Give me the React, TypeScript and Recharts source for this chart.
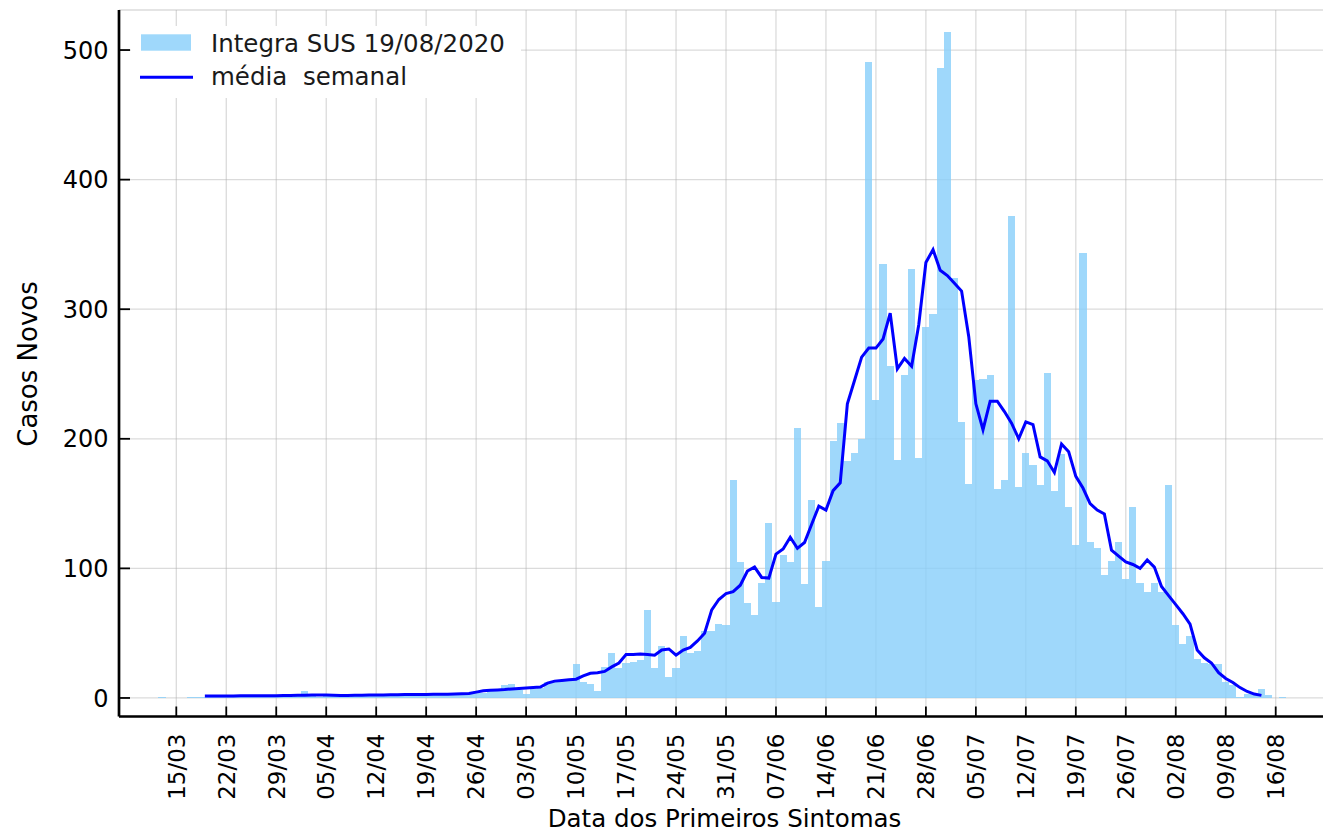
import React from 'react';
import { ComposedChart, Bar, Line, XAxis, YAxis, CartesianGrid, Legend } from 'recharts';

// ---- data ----
// daily new cases, starting 13/03/2020
const casesStart = [2020, 2, 13];
const newCases = [
  1, 0, 0, 0, 1, 1,
  1, 2, 1, 2, 1, 2, 2, 1, 2, 2, 1, 2, 1, 2,
  5,
  2, 1, 2, 3, 2, 1, 2, 2, 3, 2, 2, 3, 2, 2, 3, 4, 3, 2, 3, 2, 3, 3, 3,
  5, 4, 5, 6, 10, 11, 6, 3, 7, 8, 12, 12, 13, 14, 26, 12, 11, 5, 24, 35,
  23, 27, 28, 29, 68, 23, 40, 16, 23, 48, 35, 36, 52, 52, 57, 56,
  168, 105, 73, 64, 89, 135, 74, 110, 105, 208, 88, 153, 70, 106, 198, 212,
  183, 189, 200, 491, 230, 335, 256, 184, 249, 331, 185, 286, 296, 486, 514, 324,
  213, 165, 245, 246, 249, 161, 168, 372, 163, 189, 180, 164, 251, 160, 188, 147,
  118, 343, 120, 116, 95, 106, 120, 92, 147, 89, 82, 89, 82, 164, 56, 42,
  48, 30, 27, 26, 26, 12, 10, 1, 3, 3, 7, 2, 0, 1,
];

// weekly (7-day) mean, starting 19/03/2020
const avgStart = [2020, 2, 19];
const weeklyMean = [
  1.5, 1.5, 1.5, 1.6, 1.6, 1.7, 1.7, 1.7, 1.8, 1.8, 1.8, 1.9,
  2.0, 2.1, 2.1, 2.2, 2.2, 2.2, 2.1, 2.0, 2.0, 2.1, 2.1, 2.2, 2.3, 2.3, 2.4,
  2.5, 2.6, 2.6, 2.7, 2.7, 2.8, 2.8, 2.9, 3.0, 3.2,
  3.5, 4.5, 5.5, 6.0, 6.2, 6.5, 7.0, 7.3, 7.6, 8.0,
  8.5, 11.5, 13, 13.5, 14, 14.5, 17, 19, 19.5, 20.5,
  24, 27, 33.5, 33.5, 34, 33.5, 33, 37, 37.8, 33,
  37, 39, 44, 50, 68, 76, 80.5, 82, 87, 98,
  101, 93, 92.5, 111, 115, 124, 115.5, 120, 134, 148,
  145, 160, 166, 227, 245, 263, 270, 270, 277, 297,
  254, 262, 256, 288, 336, 346, 330, 326, 320, 314,
  279, 227, 207, 229, 229, 221, 212, 200, 213, 211,
  186, 183, 174, 196, 190, 171, 162, 150, 145, 142,
  114, 109.5, 105, 103, 100, 106.5, 101, 86, 79, 72,
  65, 57, 37, 31, 27, 19.5, 15, 12, 8, 5,
  3, 2,
];

const xTickLabels = [
  '15/03', '22/03', '29/03', '05/04', '12/04', '19/04', '26/04', '03/05', '10/05',
  '17/05', '24/05', '31/05', '07/06', '14/06', '21/06', '28/06', '05/07', '12/07',
  '19/07', '26/07', '02/08', '09/08', '16/08',
];
const yTickValues = [0, 100, 200, 300, 400, 500];

// axis category range: 08/03 .. 23/08
const axisStart = [2020, 2, 8];
const axisDayCount = 169;

const seriesName = 'Integra SUS 19/08/2020';
const lineName = 'média  semanal';

// ---- table ----
const DAY = 86400000;
const utc = (a: number[]) => Date.UTC(a[0], a[1], a[2]);
const fmt = (t: number) => {
  const d = new Date(t);
  const dd = String(d.getUTCDate()).padStart(2, '0');
  const mm = String(d.getUTCMonth() + 1).padStart(2, '0');
  return `${dd}/${mm}`;
};
const tableData = Array.from({ length: axisDayCount }, (_, i) => {
  const t = utc(axisStart) + i * DAY;
  const bi = Math.round((t - utc(casesStart)) / DAY);
  const ai = Math.round((t - utc(avgStart)) / DAY);
  return {
    date: fmt(t),
    cases: bi >= 0 && bi < newCases.length ? newCases[bi] : null,
    mean: ai >= 0 && ai < weeklyMean.length ? weeklyMean[ai] : null,
  };
});

// ---- layout ----
const W = 1335;
const H = 833;
const PLOT_LEFT = 119;
const PLOT_TOP = 10;
const X_AXIS_H = 116.5;
const PAD_L = 3.76;
const PAD_R = 5.75;
const BAND = (W - PLOT_LEFT - PAD_L - PAD_R) / axisDayCount;
const FONT = 'DejaVu Sans';
const BAR_FILL = '#87CEFA';

const BarShape = (p: any) => {
  if (!p.height || p.height <= 0) return null;
  return (
    <rect
      x={p.x}
      y={p.y}
      width={p.width}
      height={p.height}
      fill={BAR_FILL}
      fillOpacity={0.8}
      shapeRendering="crispEdges"
    />
  );
};

const XTick = (p: any) => {
  const x = p.x;
  const y0 = H - X_AXIS_H + 17;
  return (
    <text
      x={x}
      y={y0}
      transform={`rotate(-90 ${x} ${y0})`}
      textAnchor="end"
      dy="0.36em"
      fontFamily={FONT}
      fontSize={23}
      fill="#000"
    >
      {p.payload.value}
    </text>
  );
};

const YTick = (p: any) => (
  <text
    x={108.5}
    y={p.y}
    textAnchor="end"
    dy="0.36em"
    fontFamily={FONT}
    fontSize={24}
    fill="#000"
  >
    {p.payload.value}
  </text>
);

const YLabel = () => (
  <text
    x={37}
    y={364}
    transform="rotate(-90 37 364)"
    textAnchor="middle"
    fontFamily={FONT}
    fontSize={26}
    fill="#000"
  >
    Casos Novos
  </text>
);

const XLabel = () => (
  <text x={724.5} y={827} textAnchor="middle" fontFamily={FONT} fontSize={24.5} fill="#000">
    Data dos Primeiros Sintomas
  </text>
);

const LegendBox = () => (
  <svg width={390} height={72} style={{ display: 'block' }}>
    <rect x={0} y={0} width={390} height={72} fill="#fff" />
    <rect x={10} y={8.3} width={50} height={16.4} fill={BAR_FILL} fillOpacity={0.8} />
    <text x={80} y={25.7} fontFamily={FONT} fontSize={24.5} fill="#1a1a1a">
      {seriesName}
    </text>
    <line x1={9} x2={62} y1={51.3} y2={51.3} stroke="#0000ff" strokeWidth={3} />
    <text x={80} y={59} fontFamily={FONT} fontSize={24.5} fill="#1a1a1a" style={{ whiteSpace: 'pre' }}>
      {lineName}
    </text>
  </svg>
);

export default function App() {
  return (
    <div
      style={{
        position: 'absolute',
        left: 0,
        top: 0,
        width: 1323,
        height: 833,
        overflow: 'hidden',
        background: '#fff',
      }}
    >
      <ComposedChart
        width={W}
        height={H}
        data={tableData}
        margin={{ top: PLOT_TOP, right: 0, bottom: 0, left: 0 }}
      >
        <CartesianGrid stroke="#b0b0b0" strokeOpacity={0.45} strokeWidth={1.3} />
        <XAxis
          dataKey="date"
          type="category"
          ticks={xTickLabels}
          interval={0}
          height={X_AXIS_H}
          padding={{ left: PAD_L, right: PAD_R }}
          axisLine={{ stroke: '#000', strokeWidth: 2.7 }}
          tickLine={{ stroke: '#000', strokeWidth: 1.8 }}
          tickSize={-10}
          tick={<XTick />}
          label={<XLabel />}
        />
        <XAxis
          xAxisId="top"
          dataKey="date"
          orientation="top"
          height={0}
          tick={false}
          tickLine={false}
          padding={{ left: PAD_L, right: PAD_R }}
          axisLine={{ stroke: '#000', strokeWidth: 2.7 }}
        />
        <YAxis
          type="number"
          width={PLOT_LEFT}
          domain={[-14.3, 530.9]}
          ticks={yTickValues}
          interval={0}
          allowDataOverflow
          axisLine={{ stroke: '#000', strokeWidth: 2.7 }}
          tickLine={{ stroke: '#000', strokeWidth: 1.8 }}
          tickSize={-11}
          tick={<YTick />}
          label={<YLabel />}
        />
        <Bar
          dataKey="cases"
          name={seriesName}
          barSize={BAND - 0.0005}
          shape={<BarShape />}
          isAnimationActive={false}
        />
        <Line
          dataKey="mean"
          name={lineName}
          type="linear"
          stroke="#0000ff"
          strokeWidth={3}
          dot={false}
          activeDot={false}
          isAnimationActive={false}
        />
        <Legend
          layout="vertical"
          align="center"
          verticalAlign="middle"
          wrapperStyle={{ left: 131, top: 26, width: 390, height: 72 }}
          content={<LegendBox />}
        />
      </ComposedChart>
    </div>
  );
}
